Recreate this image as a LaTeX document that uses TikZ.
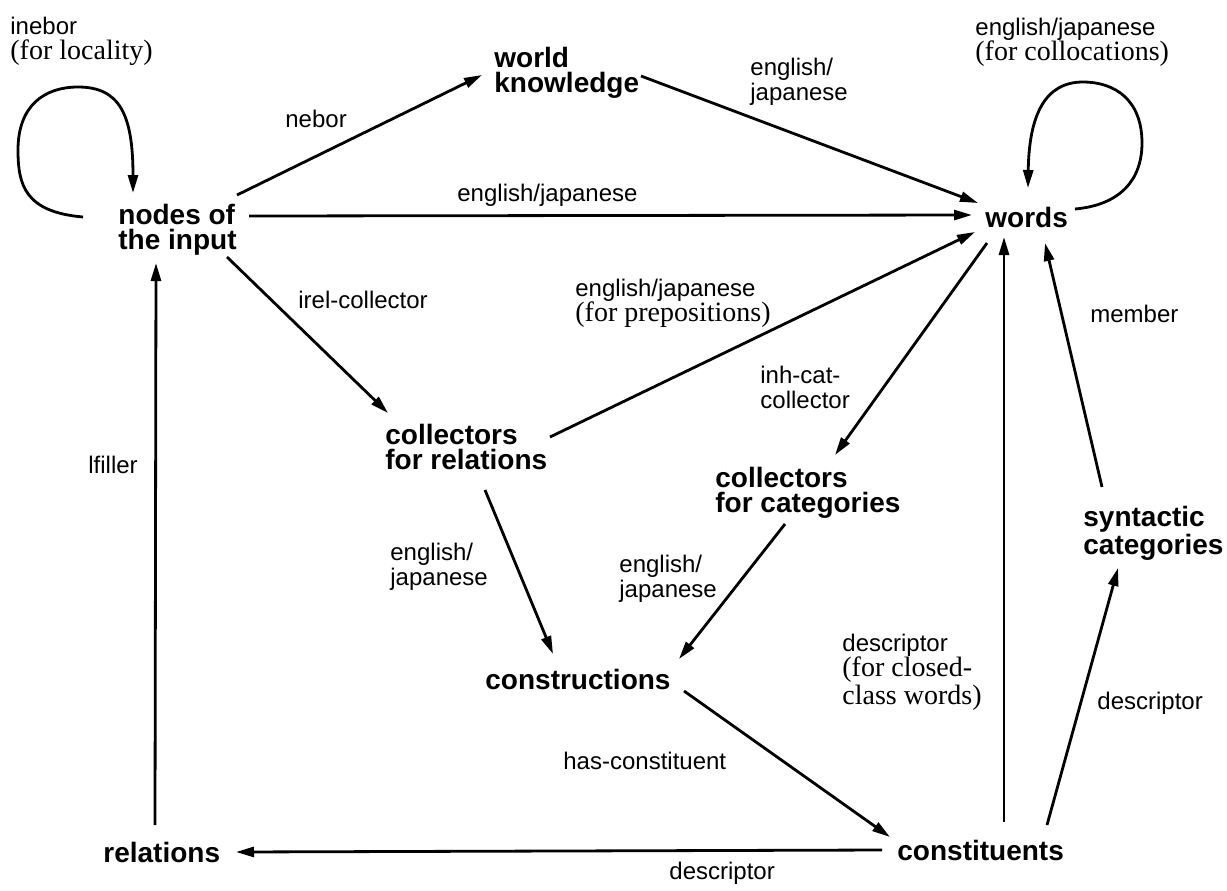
\documentclass[tikz,border=0pt]{standalone}
\usepackage{fontspec}
\usetikzlibrary{arrows.meta}
\newfontfamily\helvfont{Liberation Sans}
\newfontfamily\timesfont{Liberation Serif}
\tikzset{concept/.style={anchor=north west, inner sep=0pt, align=left, font=\helvfont\bfseries\fontsize{14}{12.5}\selectfont},
rellabel/.style={anchor=north west, inner sep=0pt, align=left, font=\helvfont\fontsize{12}{12.5}\selectfont},
link/.style={-{Triangle[length=9pt,width=5pt]}, line width=1.4pt}}
\newcommand\notefont{\timesfont\fontsize{14}{12.5}\selectfont}

\begin{document}
\begin{tikzpicture}[x=0.5pt, y=-0.5pt]
        \useasboundingbox (0,0) rectangle (1227,890);
        % Concepts
        \node[concept] (nodes) at (118,204) {nodes of\\the input};
        \node[concept] (wk) at (494,47) {world\\knowledge};
        \node[concept] (words) at (985,207) {words};
        \node[concept] (crel) at (385,424) {collectors\\for relations};
        \node[concept] (ccat) at (715,467) {collectors\\for categories};
        \node[concept] (synt) at (1083,506) {syntactic\\categories};
        \node[concept] (constr) at (485,669) {constructions};
        \node[concept] (relations) at (103,842) {relations};
        \node[concept] (constit) at (897,840) {constituents};
        % Relation labels
        \node[rellabel] (inebor) at (10,17) {inebor\\\notefont (for locality)};
        \node[rellabel] (nebor) at (285,110) {nebor};
        \node[rellabel] (ejtop) at (457,184) {english/japanese};
        \node[rellabel] (ejwk) at (750,58) {english/\\japanese};
        \node[rellabel] (ejcoll) at (975,18) {english/japanese\\\notefont (for collocations)};
        \node[rellabel] (irel) at (298,291) {irel-collector};
        \node[rellabel] (ejprep) at (575,279) {english/japanese\\\notefont (for prepositions)};
        \node[rellabel] (inhcat) at (760,366) {inh-cat-\\collector};
        \node[rellabel] (lfiller) at (88,456) {lfiller};
        \node[rellabel] (member) at (1090,305) {member};
        \node[rellabel] (ejrel) at (390,543) {english/\\japanese};
        \node[rellabel] (ejcat) at (619,555) {english/\\japanese};
        \node[rellabel] (descclosed) at (842,634) {descriptor\\\notefont (for closed-\\\notefont class words)};
        \node[rellabel] (descsynt) at (1097,692) {descriptor};
        \node[rellabel] (hascon) at (563,752) {has-constituent};
        \node[rellabel] (descrel) at (669,862) {descriptor};
        % Self loops
        \draw[link] ([shift={(-35,13)}]nodes.north west) .. controls (25,212) and (18,185) .. (18,150)
            .. controls (18,105) and (45,87) .. (78,87) .. controls (120,87) and (133,115) .. ([shift={(15,-11)}]nodes.north west);
        \draw[link] ([shift={(90,2)}]words.north west) .. controls (1120,205) and (1142,180) .. (1142,143)
            .. controls (1142,100) and (1115,82) .. (1083,82) .. controls (1045,82) and (1029,115) .. ([shift={(43,-19)}]words.north west);
        % Links
        \draw[link] ([shift={(119,-9)}]nodes.north west) -- ([shift={(-12,28)}]wk.north west);
        \draw[link] ([shift={(131,12)}]nodes.north west) -- ([shift={(-13,8)}]words.north west);
        \draw[link] ([shift={(109,53)}]nodes.north west) -- ([shift={(3,-11)}]crel.north west);
        \draw[link] ([shift={(147,29)}]wk.north west) -- ([shift={(-7,-4)}]words.north west);
        \draw[link] ([shift={(165,13)}]crel.north west) -- ([shift={(-10,25)}]words.north west);
        \draw[link] ([shift={(2,36)}]words.north west) -- ([shift={(120,-12)}]ccat.north west);
        \draw[link] ([shift={(107,-18)}]constit.north west) -- ([shift={(19,30)}]words.north west);
        \draw[link] ([shift={(19,-19)}]synt.north west) -- ([shift={(60,36)}]words.north west);
        \draw[link] ([shift={(100,66)}]crel.north west) -- ([shift={(68,-15)}]constr.north west);
        \draw[link] ([shift={(70,57)}]ccat.north west) -- ([shift={(194,-10)}]constr.north west);
        \draw[link] ([shift={(199,22)}]constr.north west) -- ([shift={(-7,-3)}]constit.north west);
        \draw[link] ([shift={(-15,10)}]constit.north west) -- ([shift={(133,10)}]relations.north west);
        \draw[link] ([shift={(150,-15)}]constit.north west) -- ([shift={(35,62)}]synt.north west);
        \draw[link] ([shift={(52,-17)}]relations.north west) -- ([shift={(38,59)}]nodes.north west);
\end{tikzpicture}
\end{document}
